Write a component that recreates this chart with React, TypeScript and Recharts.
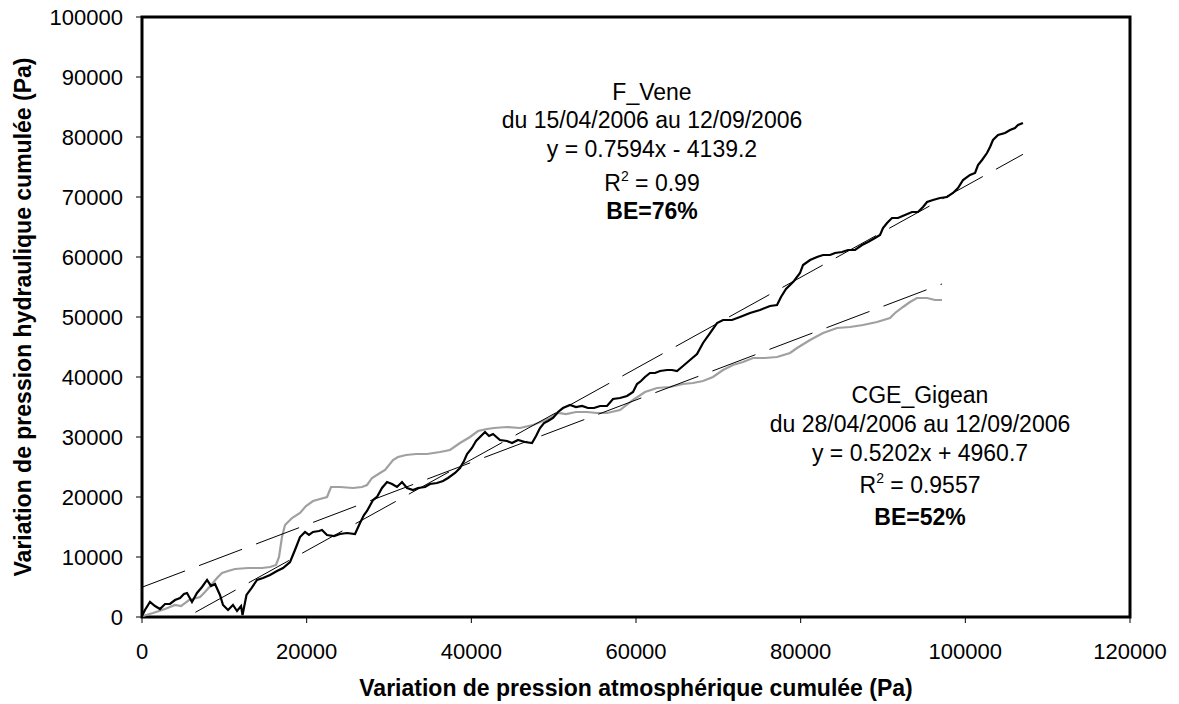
import { LineChart, Line, XAxis, YAxis, ReferenceArea } from 'recharts';

// cumulative atmospheric pressure (x, Pa) vs cumulative hydraulic pressure (y, Pa)
const fVene: [number, number][] = [
  [0, 170], [360, 1170], [970, 2500], [1580, 1830], [2190, 1330], [2790, 2170], [3400, 2170],
  [4010, 2830], [4620, 3170], [5100, 3830], [5470, 4000], [6070, 2500], [6680, 4000], [7290, 5000],
  [7900, 6170], [8380, 5170], [8870, 5500], [9470, 3670], [9840, 2000], [10450, 1170], [11050, 2000],
  [11540, 1000], [12030, 1830], [12210, 330], [12690, 3670], [13300, 4830], [13970, 6170],
  [14700, 6500], [15550, 7000], [16400, 7670], [17130, 8170], [17980, 9170], [18580, 11170],
  [19190, 13330], [19800, 14170], [20280, 13670], [20770, 14170], [21500, 14330], [21860, 14500],
  [22470, 13670], [23320, 13500], [24050, 13830], [24900, 14000], [25870, 13830], [26480, 15670],
  [26960, 17000], [27330, 17670], [28060, 19500], [28540, 20000], [29150, 21500], [29760, 22500],
  [30370, 22170], [30970, 21670], [31580, 22500], [32190, 21500], [32920, 21170], [33520, 21500],
  [34370, 21670], [34980, 22170], [35830, 22330], [36560, 22670], [37170, 23170], [38020, 24000],
  [38620, 24830], [39110, 26000], [39480, 27170], [40080, 28170], [40570, 29330], [41050, 30000],
  [41660, 30830], [42150, 30170], [42630, 30500], [43480, 29500], [44330, 29330], [44940, 29000],
  [45670, 29500], [46520, 29170], [47370, 29000], [47860, 30170], [48340, 31500], [48830, 32330],
  [49310, 32670], [49920, 33170], [50530, 34170], [51130, 34830], [51990, 35330], [52710, 35000],
  [53440, 35170], [54170, 34830], [54900, 34830], [55630, 35170], [56480, 35170], [57210, 36330],
  [58060, 36500], [58910, 36830], [59640, 37500], [60120, 38830], [60610, 39330], [61090, 40000],
  [61700, 40670], [62310, 40670], [62920, 41000], [63770, 41170], [64370, 41170], [64980, 41000],
  [65710, 41830], [66560, 42830], [67410, 43830], [68140, 45670], [68990, 47330], [69840, 49000],
  [70570, 49500], [71660, 49500], [72630, 50000], [73850, 50670], [75060, 51170], [76280, 51830],
  [77130, 52000], [77610, 53330], [78220, 54670], [78710, 55330], [79190, 56000], [79920, 57330],
  [80290, 58670], [81140, 59500], [81990, 60000], [82720, 60330], [83570, 60330], [84170, 60670],
  [85020, 60830], [85750, 61170], [86600, 61170], [87450, 62000], [88180, 62500], [89030, 63170],
  [89640, 63670], [90000, 64830], [90490, 65670], [91090, 66500], [91820, 66500], [92670, 67000],
  [93520, 67500], [94250, 67500], [94860, 68330], [95350, 69170], [96070, 69500], [96920, 69830],
  [97770, 70000], [98500, 70670], [99110, 71500], [99720, 72830], [100570, 73670], [101180, 74000],
  [101540, 75330], [102030, 76170], [102630, 77330], [103000, 78330], [103360, 79500],
  [103970, 80330], [104820, 80670], [105430, 81170], [106030, 81500], [106400, 82000], [107000, 82330],
];

const cgeGigean: [number, number][] = [
  [120, 170], [1340, 670], [2790, 1330], [4010, 2000], [4740, 1830], [5710, 2830], [7050, 3330],
  [7650, 4170], [8500, 5500], [9110, 6500], [9720, 7330], [10450, 7670], [11300, 8000],
  [12880, 8170], [14580, 8170], [15550, 8330], [16280, 8670], [16640, 10000], [17000, 13330],
  [17370, 15330], [18220, 16500], [19190, 17330], [19920, 18500], [20770, 19330], [21620, 19670],
  [22470, 20000], [22960, 21670], [24050, 21670], [25630, 21500], [26720, 21670], [27330, 22000],
  [27940, 23170], [28910, 24000], [29520, 24500], [30490, 26170], [31090, 26670], [32070, 27000],
  [33280, 27170], [34620, 27170], [36200, 27500], [37410, 27830], [38620, 29000], [39840, 30000],
  [40810, 31000], [41900, 31330], [42750, 31500], [44330, 31670], [45910, 31500], [47490, 32000],
  [48710, 32670], [49560, 33170], [50530, 34000], [51500, 33830], [52710, 34170], [54050, 34170],
  [55260, 34000], [56480, 34000], [58060, 34500], [59640, 36170], [61090, 37500], [62550, 38170],
  [64130, 38330], [65710, 38830], [66920, 39000], [68140, 39330], [69350, 40000], [70570, 41170],
  [71780, 42000], [73000, 42500], [74210, 43170], [75670, 43170], [77130, 43330], [78710, 44000],
  [79560, 44830], [81140, 46170], [82720, 47330], [84420, 48170], [85990, 48330], [87570, 48670],
  [89270, 49170], [90850, 49830], [91460, 50670], [92430, 51670], [93280, 52500], [94130, 53170],
  [95350, 53170], [96320, 52830], [97170, 52830],
];

// linear trend lines, end points over each series' range
const fVeneFit: [number, number][] = [[0, -4139.2], [107000, 77116]];
const cgeGigeanFit: [number, number][] = [[0, 4960.7], [97170, 55509]];

const xTicks = [0, 20000, 40000, 60000, 80000, 100000, 120000];
const yTicks = [0, 10000, 20000, 30000, 40000, 50000, 60000, 70000, 80000, 90000, 100000];

const veneLabel = ['F_Vene', 'du 15/04/2006 au 12/09/2006', 'y = 0.7594x - 4139.2', '0.99', 'BE=76%'];
const gigeanLabel = ['CGE_Gigean', 'du 28/04/2006 au 12/09/2006', 'y = 0.5202x + 4960.7', '0.9557', 'BE=52%'];

const FONT = '"Liberation Sans", Arial, sans-serif';

const toPoints = (pairs: [number, number][]) => pairs.map(([x, y]) => ({ x, y }));

function Annotation({ cx, baselines, lines }: { cx: number; baselines: number[]; lines: string[] }) {
  return (
    <g fontFamily={FONT} fontSize={23} fill="#000" textAnchor="middle">
      <text x={cx} y={baselines[0]}>{lines[0]}</text>
      <text x={cx} y={baselines[1]}>{lines[1]}</text>
      <text x={cx} y={baselines[2]}>{lines[2]}</text>
      <text x={cx} y={baselines[3]}>
        R<tspan fontSize={14} dy={-10}>2</tspan>
        <tspan dy={10}>{' = ' + lines[3]}</tspan>
      </text>
      <text x={cx} y={baselines[4]} fontWeight="bold">{lines[4]}</text>
    </g>
  );
}

export default function App() {
  const tickStyle = { fill: '#000', fontSize: 22, fontFamily: FONT };
  return (
    <div style={{ position: 'absolute', left: 0, top: 0, width: 1179, height: 704, background: '#fff' }}>
      <LineChart width={1179} height={704} margin={{ top: 17, right: 49, bottom: 0, left: 0 }}>
        <XAxis
          type="number"
          dataKey="x"
          domain={[0, 120000]}
          ticks={xTicks}
          height={87}
          axisLine={false}
          tickSize={6}
          tickMargin={20}
          tickLine={{ stroke: '#000' }}
          tick={tickStyle}
        />
        <YAxis
          type="number"
          dataKey="y"
          domain={[0, 100000]}
          ticks={yTicks}
          allowDataOverflow
          width={142}
          axisLine={false}
          tickSize={6}
          tickMargin={13}
          tickLine={{ stroke: '#000' }}
          tick={tickStyle}
        />
        <ReferenceArea
          x1={0}
          x2={120000}
          y1={0}
          y2={100000}
          fill="none"
          stroke="#000"
          strokeWidth={3}
          ifOverflow="visible"
        />
        <Line
          data={toPoints(cgeGigean)}
          dataKey="y"
          stroke="#a0a0a0"
          strokeWidth={2.2}
          dot={false}
          isAnimationActive={false}
        />
        <Line
          data={toPoints(fVene)}
          dataKey="y"
          stroke="#000"
          strokeWidth={2.2}
          dot={false}
          isAnimationActive={false}
        />
        <Line
          data={toPoints(cgeGigeanFit)}
          dataKey="y"
          stroke="#000"
          strokeWidth={1}
          strokeDasharray="46 15"
          dot={false}
          isAnimationActive={false}
        />
        <Line
          data={toPoints(fVeneFit)}
          dataKey="y"
          stroke="#000"
          strokeWidth={1}
          strokeDasharray="46 15"
          dot={false}
          isAnimationActive={false}
        />
      </LineChart>
      <svg
        width={1179}
        height={704}
        style={{ position: 'absolute', left: 0, top: 0, pointerEvents: 'none' }}
      >
        <Annotation cx={652} baselines={[100, 128, 157, 191, 219]} lines={veneLabel} />
        <Annotation cx={920} baselines={[403, 432, 461, 493, 525]} lines={gigeanLabel} />
        <text
          x={636}
          y={696}
          textAnchor="middle"
          fontFamily={FONT}
          fontSize={23}
          fontWeight="bold"
          fill="#000"
        >
          Variation de pression atmosphérique cumulée (Pa)
        </text>
        <text
          transform="translate(31, 317) rotate(-90)"
          textAnchor="middle"
          fontFamily={FONT}
          fontSize={23}
          fontWeight="bold"
          fill="#000"
        >
          Variation de pression hydraulique cumulée (Pa)
        </text>
      </svg>
    </div>
  );
}
